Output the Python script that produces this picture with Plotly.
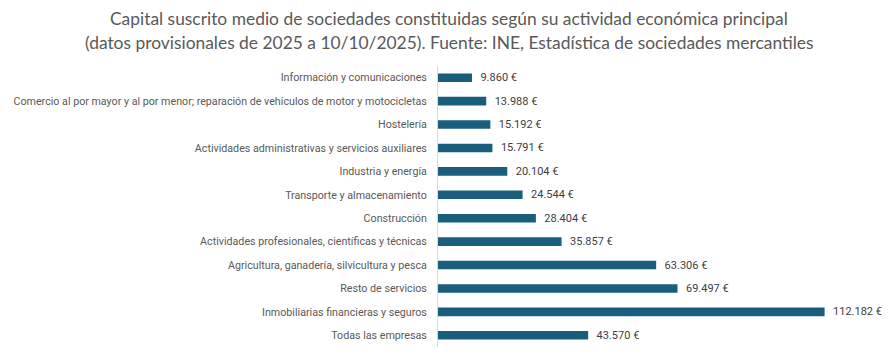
import plotly.graph_objects as go

categories = [
    "Información y comunicaciones",
    "Comercio al por mayor y al por menor; reparación de vehículos de motor y motocicletas",
    "Hostelería",
    "Actividades administrativas y servicios auxiliares",
    "Industria y energía",
    "Transporte y almacenamiento",
    "Construcción",
    "Actividades profesionales, científicas y técnicas",
    "Agricultura, ganadería, silvicultura y pesca",
    "Resto de servicios",
    "Inmobiliarias financieras y seguros",
    "Todas las empresas",
]
values = [9860, 13988, 15192, 15791, 20104, 24544, 28404, 35857, 63306, 69497, 112182, 43570]

title_lines = [
    "Capital suscrito medio de sociedades constituidas según su actividad económica principal",
    "(datos provisionales de 2025 a 10/10/2025). Fuente: INE, Estadística de sociedades mercantiles",
]

fig = go.Figure(go.Bar(
    x=values, y=categories, orientation="h",
    marker=dict(color="#195E7D", line=dict(width=0)),
    texttemplate="  %{x:,.0f} €", textposition="outside", constraintext="none",
    textfont=dict(family="Roboto, sans-serif", size=11, color="#404040"),
    cliponaxis=False,
))

fig.update_layout(
    width=889, height=354,
    margin=dict(l=438, r=3, t=66, b=7, autoexpand=False),
    paper_bgcolor="white", plot_bgcolor="white",
    separators=",.",
    bargap=0.63,
    showlegend=False,
    xaxis=dict(range=[0, 130000], visible=False, showgrid=False),
    yaxis=dict(autorange="reversed", showgrid=False, showline=True, linecolor="#D9D9D9", linewidth=1,
               ticks="", ticklabelstandoff=8, automargin=False,
               tickfont=dict(family="Roboto, sans-serif", size=10.7, color="#595959")),
)

for i, line in enumerate(title_lines):
    fig.add_annotation(text=line, xref="paper", x=(449 - 438) / (889 - 438 - 3), xanchor="center",
                       yref="paper", y=1 + (66 - (18 + 24 * i)) / (354 - 66 - 7), yanchor="middle",
                       showarrow=False, font=dict(family="Lato, sans-serif", size=17.4, color="#595959"))

fig.write_html("out.html")
